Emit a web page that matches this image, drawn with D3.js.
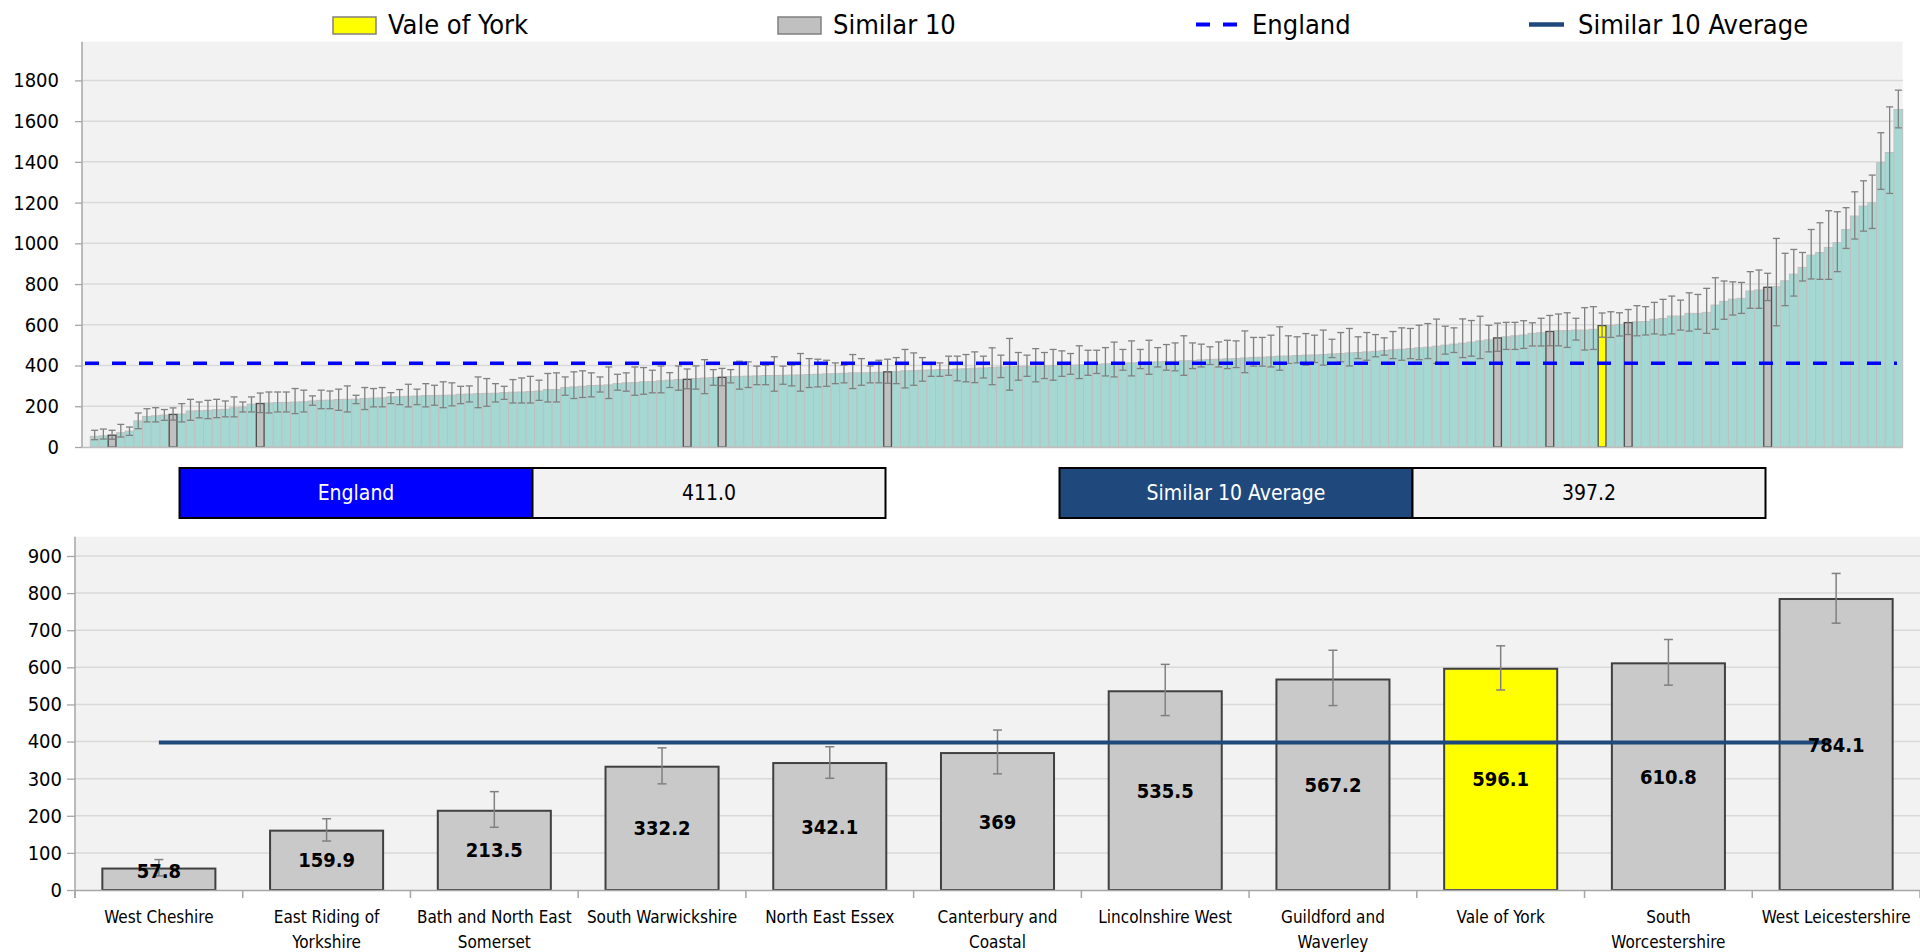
<!DOCTYPE html>
<html><head><meta charset="utf-8">
<script src="https://cdn.jsdelivr.net/npm/d3@7"></script>
<style>
html,body{margin:0;padding:0;background:#fff;overflow:hidden}
svg{display:block}
text{font-family:"Liberation Sans Narrow","Arial Narrow","DejaVu Sans Condensed",sans-serif}
</style></head><body>
<svg id="chart" width="1920" height="952"></svg>
<script>
// ---------- DATA ----------
const ccgValues = [52,55,57.8,70,78,128,150,153,157,159.9,
162,177,178,180,183,185,193,196,210,213.5,
216,218,219,221,222,226,229,230,233,234,
235,238,240,241,246,247,249,250,252,253,
254,255,259,260,262,263,264,267,269,270,
272,275,282,282,292,295,298,302,303,305,
311,315,316,320,321,325,328,331,332.2,336,
339,341,342.1,346,347,348,349,351,351,352,
353,354,356,357,359,360,362,364,364,365,
367,369,370,374,375,377,378,380,380,383,
384,387,388,390,393,394,395,396,397,398,
399,400,401,403,405,406,408,410,412,413,
415,416,418,420,421,423,424,428,430,431,
433,434,437,440,441,443,446,447,449,451,
452,454,457,459,462,464,467,470,474,477,
480,483,487,490,495,500,505,510,515,521,
526,535.5,541,546,550,558,561,567.2,571,571,
574,574,578,596.1,597,602,610.8,615,616,627,
631,643,643,656,656,661,697,715,726,730,
766,771,784.1,787,816,849,882,942,955,980,
1003,1068,1134,1183,1199,1396,1446,1657];
const ccgUpper = [82,88,82,111,98,167,188,193,184,192,
213,234,221,229,234,226,246,221,246,265,
270,270,270,287,279,251,279,275,284,300,
254,292,287,292,267,282,308,284,311,303,
320,315,298,300,344,336,311,298,331,339,
347,328,361,364,344,369,374,364,344,393,
357,364,393,390,377,398,365,398,383,398,
429,380,386,380,421,418,397,402,443,397,
402,459,434,431,426,413,402,454,434,398,
426,431,439,479,462,439,413,413,446,446,
454,467,446,487,451,533,464,451,483,464,
479,472,459,497,475,475,488,515,479,521,
479,524,488,503,511,546,511,505,492,516,
524,521,570,538,538,549,590,546,541,557,
549,574,529,562,582,541,562,552,536,567,
585,582,598,606,628,593,585,629,621,642,
598,608,612,612,620,610,632,646,653,659,
632,684,689,658,664,659,675,694,689,710,
725,741,721,757,749,779,831,815,811,808,
861,869,853,1024,951,970,955,1068,1101,1160,
1155,1175,1253,1307,1335,1543,1670,1752];
const ccgLower = [36,39,38,49,57,90,123,123,131,132,
123,131,143,139,144,148,148,172,172,169,
167,172,172,164,172,205,188,188,180,172,
213,184,197,197,213,208,197,208,197,205,
193,202,213,221,193,200,221,234,216,216,
216,229,221,221,254,238,243,246,270,238,
279,274,254,259,266,266,292,279,286,284,
262,303,301,315,284,292,306,306,274,308,
300,274,292,295,298,311,315,287,303,315,
315,313,311,290,303,323,347,347,352,325,
320,316,339,306,341,279,328,347,320,336,
328,347,357,336,352,361,349,344,377,349,
385,357,393,377,374,352,385,393,405,393,
385,390,365,397,397,393,377,410,413,402,
415,402,439,418,398,434,426,443,451,434,
426,434,429,434,410,456,464,439,446,434,
467,470,479,479,484,496,496,497,497,489,
525,476,479,539,538,545,552,546,550,555,
550,555,574,569,578,558,578,627,648,656,
681,681,719,595,694,741,815,825,823,823,
861,975,1021,1060,1073,1265,1245,1567];

const similarNames = ["West Cheshire","East Riding of Yorkshire","Bath and North East Somerset","South Warwickshire","North East Essex","Canterbury and Coastal","Lincolnshire West","Guildford and Waverley","Vale of York","South Worcestershire","West Leicestershire"];
const similarLabelLines = [["West Cheshire"],["East Riding of","Yorkshire"],["Bath and North East","Somerset"],["South Warwickshire"],["North East Essex"],["Canterbury and","Coastal"],["Lincolnshire West"],["Guildford and","Waverley"],["Vale of York"],["South","Worcestershire"],["West Leicestershire"]];
const similarValues = [57.8,159.9,213.5,332.2,342.1,369,535.5,567.2,596.1,610.8,784.1];
const similarLower = [38,132,169,286,301,313,470,497,539,552,719];
const similarUpper = [82,192,265,383,386,431,608,646,658,675,853];
const similarRank = [2,9,19,68,72,91,161,167,173,176,192];
const highlightName = "Vale of York";

const englandValue = 411.0;
const similarAverage = 397.2;

const topTicks = [0,200,400,600,800,1000,1200,1400,1600,1800];
const bottomTicks = [0,100,200,300,400,500,600,700,800,900];
const legendLabels = ["Vale of York","Similar 10","England","Similar 10 Average"];

// ---------- COLOURS ----------
const C = {teal:"#a6d8d3", tealStroke:"#bfbfbf", grey:"#c0c0c0", greyB:"#c9c9c9", yellow:"#ffff00",
  blue:"#0000ff", navy:"#1f497d", bg:"#f2f2f2", grid:"#d9d9d9", axis:"#a6a6a6", err:"#808080"};

const svg = d3.select("#chart");

// ---------- LEGEND ----------
const lg = svg.append("g");
const legendX = [333, 778, 1196, 1529];
legendLabels.forEach((lab, i) => {
  const x0 = legendX[i];
  let tx;
  if (i < 2) {
    lg.append("rect").attr("x", x0).attr("y", 17).attr("width", 43).attr("height", 17)
      .attr("fill", i === 0 ? C.yellow : C.grey).attr("stroke", "#808080").attr("stroke-width", 1.5);
    tx = x0 + 55;
  } else if (i === 2) {
    lg.append("line").attr("x1", x0).attr("x2", x0 + 41).attr("y1", 24.5).attr("y2", 24.5)
      .attr("stroke", C.blue).attr("stroke-width", 4).attr("stroke-dasharray", "14,13");
    tx = x0 + 56;
  } else {
    lg.append("line").attr("x1", x0).attr("x2", x0 + 35).attr("y1", 24.5).attr("y2", 24.5)
      .attr("stroke", C.navy).attr("stroke-width", 4.5);
    tx = x0 + 49;
  }
  lg.append("text").attr("x", tx).attr("y", 34).attr("font-size", 27).attr("fill", "#000").text(lab);
});

// ---------- TOP CHART ----------
const tL = 82, tR = 1902.7, tT = 41.7, tB = 447;
const topY = d3.scaleLinear().domain([0, 1990]).range([tB, tT]);
const topX = d3.scaleBand().domain(d3.range(ccgValues.length)).range([90.3, tR]).padding(0);

const topG = svg.append("g");
topG.append("rect").attr("x", tL).attr("y", tT).attr("width", tR - tL).attr("height", tB - tT).attr("fill", C.bg);
topG.append("g").selectAll("line").data(topTicks.filter(d => d > 0)).join("line")
  .attr("x1", tL).attr("x2", tR).attr("y1", d => topY(d)).attr("y2", d => topY(d))
  .attr("stroke", C.grid).attr("stroke-width", 1.5);

topG.append("g").selectAll("rect").data(ccgValues).join("rect")
  .attr("x", (d, i) => topX(i)).attr("width", topX.bandwidth())
  .attr("y", d => topY(d)).attr("height", d => tB - topY(d))
  .attr("fill", C.teal).attr("stroke", C.tealStroke).attr("stroke-width", 1);

// highlighted bars
topG.append("g").selectAll("rect").data(similarValues).join("rect")
  .attr("x", (d, i) => topX(similarRank[i]) + 0.5).attr("width", topX.bandwidth() - 1)
  .attr("y", d => topY(d)).attr("height", d => tB - topY(d))
  .attr("fill", (d, i) => similarNames[i] === highlightName ? C.yellow : C.grey)
  .attr("stroke", "#505050").attr("stroke-width", 1.3);

// error bars
const eb = topG.append("g").attr("stroke", C.err).attr("stroke-width", 1.3);
ccgValues.forEach((v, i) => {
  const cx = topX(i) + topX.bandwidth() / 2;
  eb.append("line").attr("x1", cx).attr("x2", cx).attr("y1", topY(ccgUpper[i])).attr("y2", topY(ccgLower[i]));
  eb.append("line").attr("x1", cx - 3.5).attr("x2", cx + 3.5).attr("y1", topY(ccgUpper[i])).attr("y2", topY(ccgUpper[i]));
  eb.append("line").attr("x1", cx - 3.5).attr("x2", cx + 3.5).attr("y1", topY(ccgLower[i])).attr("y2", topY(ccgLower[i]));
});

// England line
topG.append("line").attr("x1", 85).attr("x2", 1897).attr("y1", topY(englandValue)).attr("y2", topY(englandValue))
  .attr("stroke", C.blue).attr("stroke-width", 3.5).attr("stroke-dasharray", "14,13");

// axes
topG.append("line").attr("x1", tL).attr("x2", tR).attr("y1", tB + 0.5).attr("y2", tB + 0.5).attr("stroke", C.tealStroke).attr("stroke-width", 1.5);
const ya = topG.append("g").attr("transform", `translate(${tL},0)`)
  .call(d3.axisLeft(topY).tickValues(topTicks).tickSize(7).tickSizeOuter(0).tickPadding(16).tickFormat(d3.format("d")));
ya.attr("font-family", null).attr("font-size", null);
ya.select(".domain").attr("stroke", C.axis).attr("stroke-width", 1.5).attr("d", `M0,${tT}V${tB}`);
ya.selectAll(".tick line").attr("stroke", C.axis).attr("stroke-width", 1.3);
ya.selectAll(".tick text").attr("font-size", 20).attr("fill", "#000");

// ---------- SUMMARY BOXES ----------
function box(x, label, value, fill) {
  const g = svg.append("g");
  g.append("rect").attr("x", x).attr("y", 468).attr("width", 353).attr("height", 50).attr("fill", fill).attr("stroke", "#000").attr("stroke-width", 2);
  g.append("rect").attr("x", x + 353).attr("y", 468).attr("width", 353).attr("height", 50).attr("fill", C.bg).attr("stroke", "#000").attr("stroke-width", 2);
  g.append("text").attr("x", x + 176.5).attr("y", 493).attr("dy", "0.35em").attr("text-anchor", "middle")
    .attr("font-size", 21).attr("fill", "#fff").text(label);
  g.append("text").attr("x", x + 353 + 176.5).attr("y", 493).attr("dy", "0.35em").attr("text-anchor", "middle")
    .attr("font-size", 21).attr("fill", "#000").text(value);
}
box(179.5, "England", englandValue.toFixed(1), C.blue);
box(1059.5, "Similar 10 Average", similarAverage.toFixed(1), C.navy);

// ---------- BOTTOM CHART ----------
const bL = 75, bR = 1920, bT = 536.7, bB = 890;
const botY = d3.scaleLinear().domain([0, 952]).range([bB, bT]);
const botX = d3.scaleBand().domain(similarNames).range([bL, bR]).paddingInner(0.326).paddingOuter(0.163);
const botG = svg.append("g");
botG.append("rect").attr("x", bL).attr("y", bT).attr("width", bR - bL).attr("height", bB - bT).attr("fill", C.bg);
botG.append("g").selectAll("line").data(bottomTicks.filter(d => d > 0)).join("line")
  .attr("x1", bL).attr("x2", bR).attr("y1", d => botY(d)).attr("y2", d => botY(d))
  .attr("stroke", C.grid).attr("stroke-width", 1.5);

botG.append("g").selectAll("rect").data(similarValues).join("rect")
  .attr("x", (d, i) => botX(similarNames[i])).attr("width", botX.bandwidth())
  .attr("y", d => botY(d)).attr("height", d => bB - botY(d))
  .attr("fill", (d, i) => similarNames[i] === highlightName ? C.yellow : C.greyB)
  .attr("stroke", "#404040").attr("stroke-width", 2);

// error bars
const eb2 = botG.append("g").attr("stroke", C.err).attr("stroke-width", 1.5);
similarValues.forEach((v, i) => {
  const cx = botX(similarNames[i]) + botX.bandwidth() / 2;
  eb2.append("line").attr("x1", cx).attr("x2", cx).attr("y1", botY(similarUpper[i])).attr("y2", botY(similarLower[i]));
  eb2.append("line").attr("x1", cx - 4.5).attr("x2", cx + 4.5).attr("y1", botY(similarUpper[i])).attr("y2", botY(similarUpper[i]));
  eb2.append("line").attr("x1", cx - 4.5).attr("x2", cx + 4.5).attr("y1", botY(similarLower[i])).attr("y2", botY(similarLower[i]));
});

// average line
const firstC = botX(similarNames[0]) + botX.bandwidth() / 2;
const lastC = botX(similarNames[similarNames.length - 1]) + botX.bandwidth() / 2;
botG.append("line").attr("x1", firstC).attr("x2", lastC - 8).attr("y1", botY(similarAverage)).attr("y2", botY(similarAverage))
  .attr("stroke", C.navy).attr("stroke-width", 4);

// value labels
botG.append("g").selectAll("text").data(similarValues).join("text")
  .attr("x", (d, i) => botX(similarNames[i]) + botX.bandwidth() / 2)
  .attr("y", d => Math.min((botY(d) + bB) / 2, bB - 19))
  .attr("dy", "0.35em").attr("text-anchor", "middle").attr("font-size", 20).attr("font-weight", "bold")
  .attr("fill", "#000").text(d => String(d));

// axes
const xa = botG.append("g").attr("transform", `translate(0,${bB})`)
  .call(d3.axisBottom(botX).tickSize(0).tickFormat(""));
xa.select(".domain").attr("stroke", C.axis).attr("stroke-width", 1.5);
botG.append("g").selectAll("line").data(d3.range(similarNames.length + 1)).join("line")
  .attr("x1", i => bL + i * botX.step()).attr("x2", i => bL + i * botX.step())
  .attr("y1", bB).attr("y2", bB + 8).attr("stroke", C.axis).attr("stroke-width", 1.5);
const yb = botG.append("g").attr("transform", `translate(${bL},0)`)
  .call(d3.axisLeft(botY).tickValues(bottomTicks).tickSize(8).tickSizeOuter(0).tickPadding(5).tickFormat(d3.format("d")));
yb.attr("font-family", null).attr("font-size", null);
yb.select(".domain").attr("stroke", C.axis).attr("stroke-width", 1.5).attr("d", `M0,${bT}V${bB + 8}`);
yb.selectAll(".tick line").attr("stroke", C.axis).attr("stroke-width", 1.3);
yb.selectAll(".tick text").attr("font-size", 20).attr("fill", "#000");

// category labels
const cl = botG.append("g");
similarNames.forEach((n, i) => {
  const cx = botX(n) + botX.bandwidth() / 2;
  similarLabelLines[i].forEach((ln, j) => {
    cl.append("text").attr("x", cx).attr("y", 923 + j * 25).attr("text-anchor", "middle")
      .attr("font-size", 17).attr("fill", "#000").text(ln);
  });
});
</script>
</body></html>
